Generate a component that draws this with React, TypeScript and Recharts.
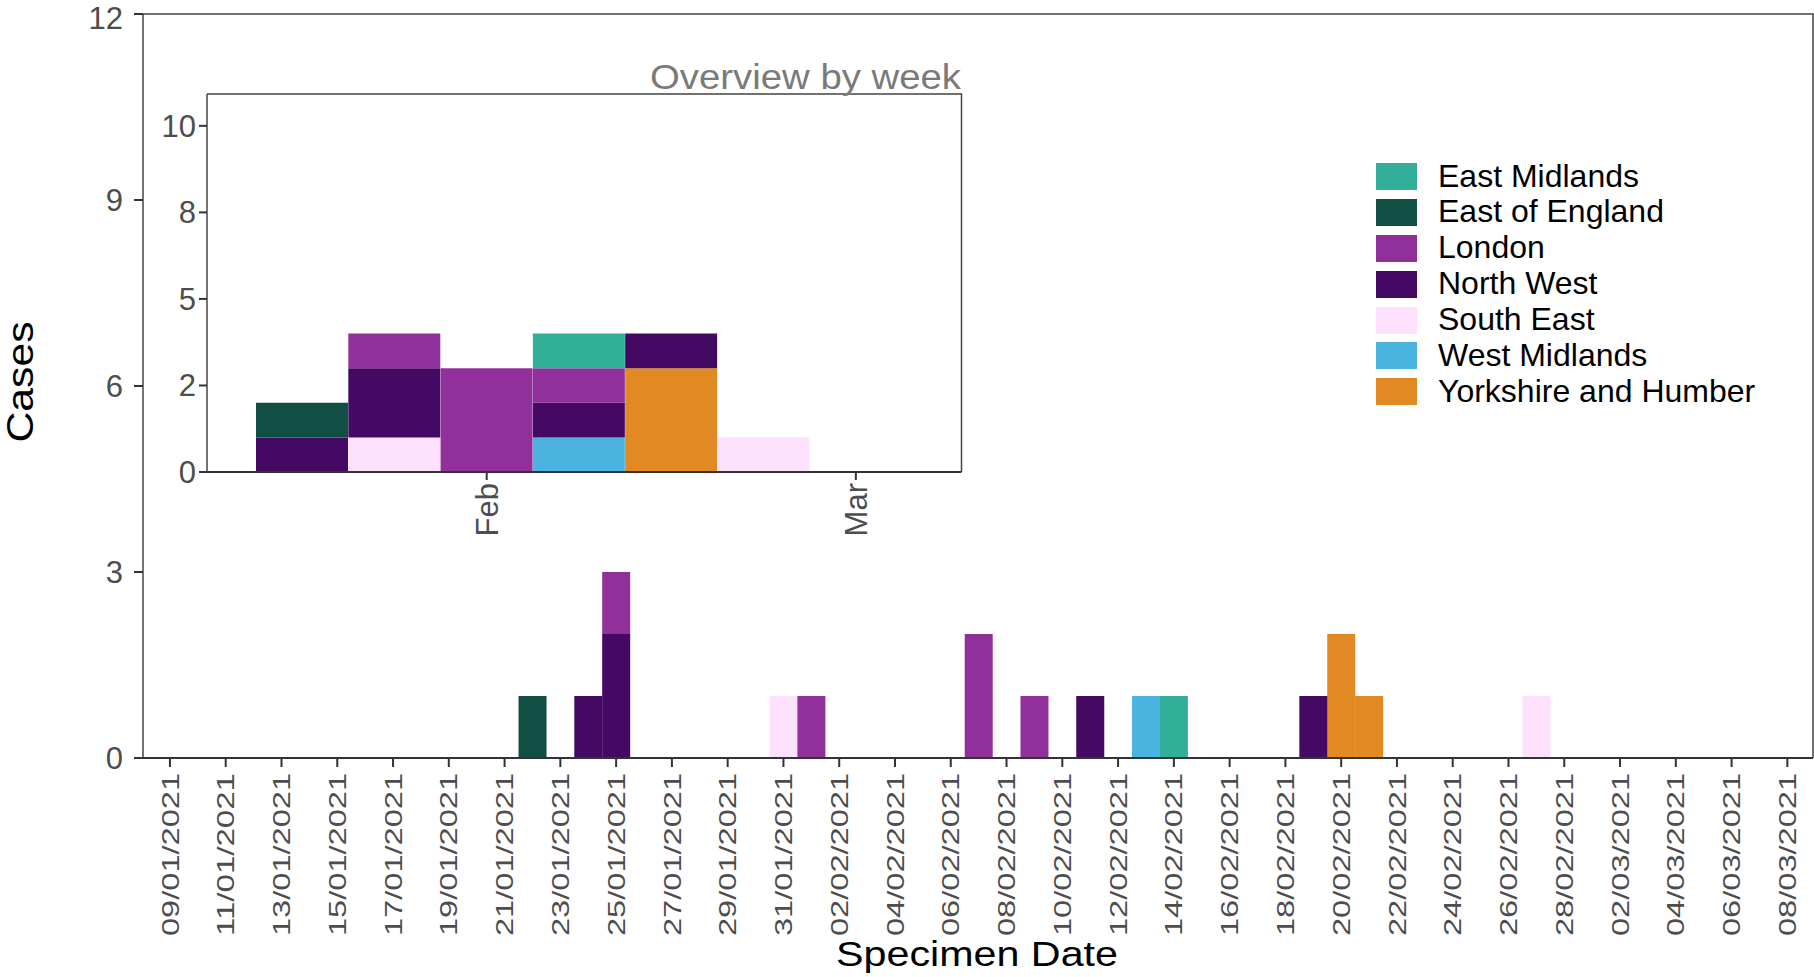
import React from 'react';
import { BarChart, Bar, XAxis, YAxis } from 'recharts';

// regions, in legend order (first one sits on top of each stack)
const REGIONS = [
  'East Midlands',
  'East of England',
  'London',
  'North West',
  'South East',
  'West Midlands',
  'Yorkshire and Humber',
];
const REGION_KEYS = ['em', 'eoe', 'lon', 'nw', 'se', 'wm', 'yh'];
const REGION_COLORS = ['#32AF98', '#114E43', '#92309B', '#440A63', '#FDE0FC', '#4BB3E0', '#E18A23'];

// daily cases by specimen date
const EAST_MIDLANDS_DAILY: [string, number][] = [['14/02/2021', 1]];
const EAST_OF_ENGLAND_DAILY: [string, number][] = [['22/01/2021', 1]];
const LONDON_DAILY: [string, number][] = [
  ['25/01/2021', 1],
  ['01/02/2021', 1],
  ['07/02/2021', 2],
  ['09/02/2021', 1],
];
const NORTH_WEST_DAILY: [string, number][] = [
  ['24/01/2021', 1],
  ['25/01/2021', 2],
  ['11/02/2021', 1],
  ['19/02/2021', 1],
];
const SOUTH_EAST_DAILY: [string, number][] = [
  ['31/01/2021', 1],
  ['27/02/2021', 1],
];
const WEST_MIDLANDS_DAILY: [string, number][] = [['13/02/2021', 1]];
const YORKSHIRE_DAILY: [string, number][] = [
  ['20/02/2021', 2],
  ['21/02/2021', 1],
];
const DAILY = [
  EAST_MIDLANDS_DAILY,
  EAST_OF_ENGLAND_DAILY,
  LONDON_DAILY,
  NORTH_WEST_DAILY,
  SOUTH_EAST_DAILY,
  WEST_MIDLANDS_DAILY,
  YORKSHIRE_DAILY,
];

// x axis runs from 09/01/2021 to 08/03/2021, one category per day
const FIRST_DAY = [2021, 0, 9];
const LAST_DAY = [2021, 2, 8];
const MAIN_Y_TICKS = [0, 3, 6, 9, 12];

// weekly overview (weeks starting Monday)
const WEEKS = ['18/01/2021', '25/01/2021', '01/02/2021', '08/02/2021', '15/02/2021', '22/02/2021', '01/03/2021'];
const EAST_MIDLANDS_WEEKLY = [0, 0, 0, 1, 0, 0, 0];
const EAST_OF_ENGLAND_WEEKLY = [1, 0, 0, 0, 0, 0, 0];
const LONDON_WEEKLY = [0, 1, 3, 1, 0, 0, 0];
const NORTH_WEST_WEEKLY = [1, 2, 0, 1, 1, 0, 0];
const SOUTH_EAST_WEEKLY = [0, 1, 0, 0, 0, 1, 0];
const WEST_MIDLANDS_WEEKLY = [0, 0, 0, 1, 0, 0, 0];
const YORKSHIRE_WEEKLY = [0, 0, 0, 0, 3, 0, 0];
const WEEKLY = [
  EAST_MIDLANDS_WEEKLY,
  EAST_OF_ENGLAND_WEEKLY,
  LONDON_WEEKLY,
  NORTH_WEST_WEEKLY,
  SOUTH_EAST_WEEKLY,
  WEST_MIDLANDS_WEEKLY,
  YORKSHIRE_WEEKLY,
];
const MONTH_TICKS = ['01/02/2021', '01/03/2021'];
const MONTH_LABELS = ['Feb', 'Mar'];
const INSET_Y_TICKS = [0, 2.5, 5, 7.5, 10];
const INSET_Y_LABELS = ['0', '2', '5', '8', '10'];

const FONT = "'Liberation Sans', Arial, sans-serif";
const TICK_COLOR = '#4d4d4d';
const AXIS_COLOR = '#333333';
const BORDER_COLOR = '#444444';

const pad = (n: number) => String(n).padStart(2, '0');

function buildDays(): string[] {
  const out: string[] = [];
  const start = Date.UTC(FIRST_DAY[0], FIRST_DAY[1], FIRST_DAY[2]);
  const end = Date.UTC(LAST_DAY[0], LAST_DAY[1], LAST_DAY[2]);
  for (let t = start; t <= end; t += 86400000) {
    const d = new Date(t);
    out.push(`${pad(d.getUTCDate())}/${pad(d.getUTCMonth() + 1)}/${d.getUTCFullYear()}`);
  }
  return out;
}

const dailyData = buildDays().map((date) => {
  const row: Record<string, string | number> = { date };
  REGION_KEYS.forEach((key, i) => {
    const hit = DAILY[i].find(([d]) => d === date);
    row[key] = hit ? hit[1] : 0;
  });
  return row;
});

const weeklyData = WEEKS.map((week, w) => {
  const row: Record<string, string | number> = { week };
  REGION_KEYS.forEach((key, i) => {
    row[key] = WEEKLY[i][w];
  });
  return row;
});

// bars stack bottom-up, so draw the last region first
const STACK_ORDER = REGION_KEYS.map((_, i) => i).reverse();

function DateTick(props: any) {
  const { x, y, payload } = props;
  return (
    <text
      transform={`translate(${x},${y}) rotate(-90)`}
      textAnchor="end"
      dy="0.36em"
      fontSize={24}
      fill={TICK_COLOR}
      textLength={163}
      lengthAdjust="spacingAndGlyphs"
    >
      {payload.value}
    </text>
  );
}

function MonthTick(props: any) {
  const { x, y, payload } = props;
  const idx = MONTH_TICKS.indexOf(payload.value);
  if (idx < 0) return <g />;
  return (
    <g>
      <line x1={x} x2={x} y1={y} y2={y + 8} stroke={AXIS_COLOR} strokeWidth={2} />
      <text
        transform={`translate(${x},${y + 11}) rotate(-90)`}
        textAnchor="end"
        dy="0.36em"
        fontSize={31}
        fill={TICK_COLOR}
      >
        {MONTH_LABELS[idx]}
      </text>
    </g>
  );
}

function Legend() {
  return (
    <div style={{ position: 'absolute', left: 1376, top: 158.5 }}>
      {REGIONS.map((name, i) => (
        <div key={name} style={{ display: 'flex', alignItems: 'center', height: 35.9 }}>
          <div style={{ width: 41, height: 27, background: REGION_COLORS[i] }} />
          <div style={{ marginLeft: 21, fontSize: 32, lineHeight: '35.9px', color: '#000', whiteSpace: 'nowrap' }}>
            {name}
          </div>
        </div>
      ))}
    </div>
  );
}

export default function App() {
  return (
    <div
      style={{
        position: 'fixed',
        left: 0,
        top: 0,
        width: 1814,
        height: 977,
        overflow: 'hidden',
        background: '#fff',
        fontFamily: FONT,
      }}
    >
      <div style={{ position: 'absolute', left: 0, top: 0 }}>
        <BarChart
          width={1814}
          height={977}
          data={dailyData}
          margin={{ top: 14, right: 1, bottom: 19, left: 83 }}
          barCategoryGap={0}
        >
          <XAxis
            dataKey="date"
            interval={1}
            height={200}
            padding={{ left: 13, right: 11.7 }}
            tick={(p: any) => <DateTick {...p} />}
            tickSize={9}
            tickMargin={6}
            tickLine={{ stroke: AXIS_COLOR, strokeWidth: 2 }}
            axisLine={{ stroke: AXIS_COLOR, strokeWidth: 2 }}
          />
          <YAxis
            type="number"
            domain={[0, 12]}
            ticks={MAIN_Y_TICKS}
            width={60}
            tickSize={9}
            tickMargin={11}
            tick={{ fontSize: 31, fill: TICK_COLOR }}
            tickLine={{ stroke: AXIS_COLOR, strokeWidth: 2 }}
            axisLine={{ stroke: BORDER_COLOR, strokeWidth: 1.5 }}
          />
          {STACK_ORDER.map((i) => (
            <Bar
              key={REGION_KEYS[i]}
              dataKey={REGION_KEYS[i]}
              name={REGIONS[i]}
              stackId="cases"
              fill={REGION_COLORS[i]}
              isAnimationActive={false}
            />
          ))}
        </BarChart>
      </div>

      <div style={{ position: 'absolute', left: 0, top: 0 }}>
        <BarChart
          width={1000}
          height={560}
          data={weeklyData}
          margin={{ top: 94, right: 38.5, bottom: 8, left: 147 }}
          barCategoryGap={0}
        >
          <XAxis
            dataKey="week"
            interval={0}
            height={80}
            padding={{ left: 49, right: 59.5 }}
            tickSize={0}
            tickMargin={0}
            tickLine={false}
            tick={(p: any) => <MonthTick {...p} />}
            axisLine={{ stroke: AXIS_COLOR, strokeWidth: 2 }}
          />
          <YAxis
            type="number"
            domain={[0, 10.92]}
            ticks={INSET_Y_TICKS}
            tickFormatter={(v: number) => INSET_Y_LABELS[INSET_Y_TICKS.indexOf(v)]}
            width={60}
            tickSize={8}
            tickMargin={3}
            tick={{ fontSize: 31, fill: TICK_COLOR }}
            tickLine={{ stroke: AXIS_COLOR, strokeWidth: 2 }}
            axisLine={{ stroke: BORDER_COLOR, strokeWidth: 1.5 }}
          />
          {STACK_ORDER.map((i) => (
            <Bar
              key={REGION_KEYS[i]}
              dataKey={REGION_KEYS[i]}
              name={REGIONS[i]}
              stackId="weekly"
              fill={REGION_COLORS[i]}
              isAnimationActive={false}
            />
          ))}
        </BarChart>
      </div>

      <svg
        width={1814}
        height={977}
        style={{ position: 'absolute', left: 0, top: 0, pointerEvents: 'none' }}
      >
        {/* panel borders (top and right edges) */}
        <polyline points="143,14 1813,14 1813,758" fill="none" stroke={BORDER_COLOR} strokeWidth={1.5} />
        <polyline points="207,94 961.5,94 961.5,472" fill="none" stroke={BORDER_COLOR} strokeWidth={1.5} />
        <text
          transform="translate(33,382) rotate(-90)"
          textAnchor="middle"
          fontSize={36}
          fill="#000"
          textLength={121}
          lengthAdjust="spacingAndGlyphs"
        >
          Cases
        </text>
        <text
          x={977}
          y={966}
          textAnchor="middle"
          fontSize={35}
          fill="#000"
          textLength={282}
          lengthAdjust="spacingAndGlyphs"
        >
          Specimen Date
        </text>
        <text
          x={961}
          y={89}
          textAnchor="end"
          fontSize={35}
          fill="#7a7a7a"
          textLength={311}
          lengthAdjust="spacingAndGlyphs"
        >
          Overview by week
        </text>
      </svg>

      <Legend />
    </div>
  );
}
